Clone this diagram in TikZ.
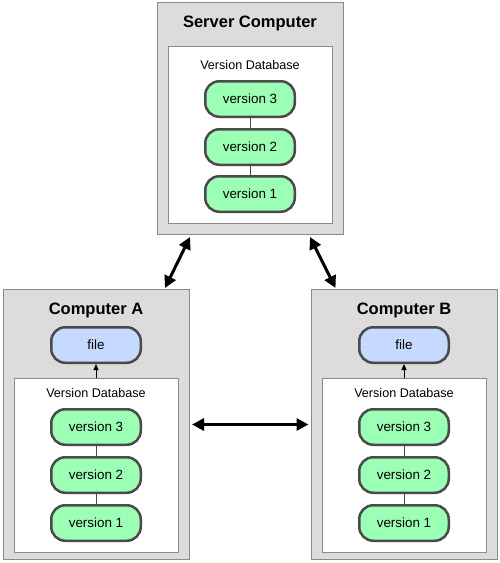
\documentclass[tikz,border=0pt]{standalone}
\usepackage{fontspec}
\setmainfont{Liberation Sans}
\usetikzlibrary{arrows.meta,positioning}
\definecolor{boxgray}{HTML}{DCDCDC}
\definecolor{edgegray}{HTML}{8A8A8A}
\definecolor{pillborder}{HTML}{4A4A4A}
\definecolor{pillgreen}{HTML}{9CFFB6}
\definecolor{pillblue}{HTML}{C6D9FF}
\tikzset{sync/.style={{Triangle[length=12pt,width=12pt]}-{Triangle[length=12pt,width=12pt]}, line width=3pt}}
\tikzset{checkout/.style={-{Triangle[length=6pt,width=5pt]}, line width=0.9pt}}

\begin{document}
\begin{tikzpicture}
[x=1pt, y=-1pt,
 machine/.style={draw=edgegray, fill=boxgray, line width=1pt, inner sep=0pt},
 database/.style={draw=edgegray, fill=white, line width=1pt, inner sep=0pt},
 version/.style={draw=pillborder, fill=pillgreen, line width=2.5pt, rounded corners=14pt,
   minimum width=89.5pt, minimum height=35.5pt, inner sep=0pt, font=\fontsize{13.4}{15}\selectfont},
 workfile/.style={version, fill=pillblue},
 title/.style={font=\bfseries\fontsize{16.5}{19}\selectfont},
 dblabel/.style={font=\fontsize{12.6}{15}\selectfont},
 link/.style={draw=pillborder, line width=0.8pt}]
\useasboundingbox (0,0) rectangle (500,563);

% server
\node (server) at (250.5,118.5)[machine, minimum width=186pt, minimum height=232pt]{};
\node (servertext) at (250,23.5)[title]{Server Computer};
\node (serverdb) at (250.5,135)[database, minimum width=164pt, minimum height=177pt]{};
\node (serverdbtext) at (250,65)[dblabel]{Version Database};
\node (s3) at (250,99)[version]{version 3};
\node (s2) at (250,147)[version]{version 2};
\node (s1) at (250,194)[version]{version 1};
\draw[link] (s3) -- (s2);
\draw[link] (s2) -- (s1);

% computer A
\node (compA) at (96.5,424.5)[machine, minimum width=186pt, minimum height=270pt]{};
\node (compAtext) at (96,310)[title]{Computer A};
\node (fileA) at (96,345)[workfile]{file};
\node (dbA) at (96.5,465.5)[database, minimum width=164pt, minimum height=174pt]{};
\node (dbAtext) at (96,393)[dblabel]{Version Database};
\node (a3) at (96,427)[version]{version 3};
\node (a2) at (96,475)[version]{version 2};
\node (a1) at (96,523)[version]{version 1};
\draw[link] (a3) -- (a2);
\draw[link] (a2) -- (a1);
\draw[checkout] (dbA.north -| fileA) -- (fileA.south);

% computer B
\node (compB) at (404,424.5)[machine, minimum width=186pt, minimum height=270pt]{};
\node (compBtext) at (404,310)[title]{Computer B};
\node (fileB) at (404,345)[workfile]{file};
\node (dbB) at (404,465.5)[database, minimum width=164pt, minimum height=174pt]{};
\node (dbBtext) at (404,393)[dblabel]{Version Database};
\node (b3) at (404,427)[version]{version 3};
\node (b2) at (404,475)[version]{version 2};
\node (b1) at (404,523)[version]{version 1};
\draw[link] (b3) -- (b2);
\draw[link] (b2) -- (b1);
\draw[checkout] (dbB.north -| fileB) -- (fileB.south);

% syncing
\draw[sync] ([xshift=33pt,yshift=-2pt]server.south west) -- ([xshift=-25pt,yshift=1pt]compA.north east);
\draw[sync] ([xshift=-34pt,yshift=-2pt]server.south east) -- ([xshift=25pt,yshift=1pt]compB.north west);
\draw[sync] ([xshift=2pt]compA.east) -- ([xshift=-2pt]compB.west);
\end{tikzpicture}
\end{document}
